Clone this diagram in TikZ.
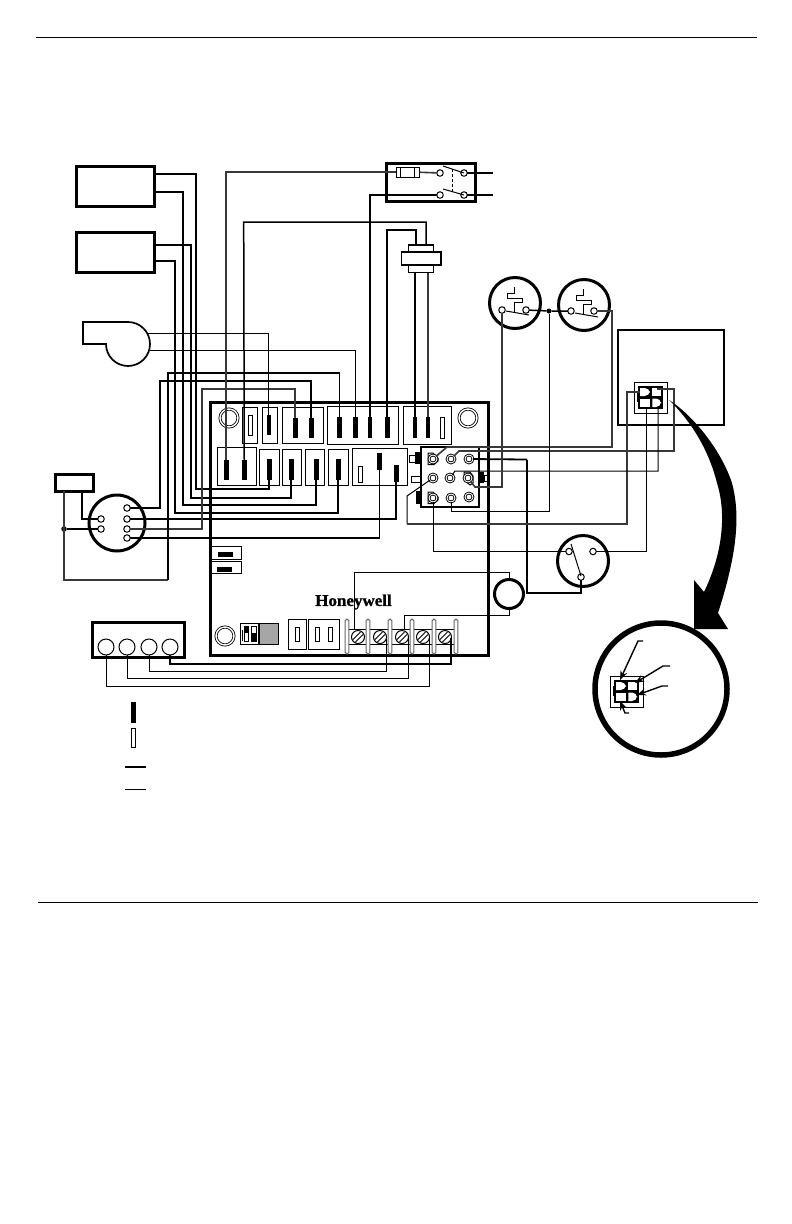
\documentclass[tikz,border=0pt]{standalone}
\usepackage{fontspec}
\setmainfont{Liberation Serif}
\newfontfamily\hwfont[FakeBold=1.2,FakeStretch=1.03]{Liberation Serif Bold}
\usetikzlibrary{arrows.meta}
\tikzset{
  frame/.style={draw=black,line width=3pt,fill=white},
  blk/.style={draw=black,line width=1pt,fill=white},
  pinb/.style={draw=none,fill=black},
  pino/.style={draw=black,line width=1pt,fill=white},
  hw/.style={draw=black,line width=1.8pt},
  mw/.style={draw=black,line width=1.5pt},
  tw/.style={draw=black,line width=1pt},
  gw/.style={draw=black!78,line width=1.6pt},
  term/.style={circle,draw=black,line width=1pt,fill=white,inner sep=0pt,outer sep=0pt,minimum size=6.5pt},
  ring/.style={circle,draw=black,fill=white,line width=.9pt,double=white,double distance=.9pt,inner sep=0pt,outer sep=0pt,minimum size=8pt},
  bigring/.style={circle,draw=black,fill=white,line width=.8pt,double=white,double distance=1.4pt,inner sep=0pt,outer sep=0pt,minimum size=18pt},
  disc/.style={circle,draw=black,fill=white,line width=3pt,inner sep=0pt,outer sep=0pt},
  screw/.style={circle,draw=black,fill=white,line width=1pt,inner sep=0pt,outer sep=0pt,minimum size=13pt},
  post/.style={draw=black!60,fill=white,line width=1pt,rounded corners=1.6pt},
  callout/.style={draw=black,line width=1.4pt,-{Stealth[length=9pt,width=7pt]}},
}
\newcommand{\bx}[6][blk]{\node[#1,rectangle,inner sep=0pt,outer sep=0pt,minimum width={((#5)-(#3))*1pt},minimum height={((#6)-(#4))*1pt}] (#2) at ({((#3)+(#5))/2},{((#4)+(#6))/2}) {};}
\newcommand{\conn}[3]{%
\begin{scope}[shift={(#1,#2)}]
\bx[blk]{#3o}{0}{0}{33}{31}
\bx[pinb]{#3i}{4}{4}{29}{27}
\fill[white] (6,6) [rounded corners=5pt] -- (15.8,6) -- (15.8,14) [sharp corners] -- (6,14) -- cycle;
\fill[white] (18.3,6) rectangle (27,14);
\fill[white] (6,16.5) rectangle (15.8,25);
\fill[white] (18.3,16.5) [rounded corners=5pt] -- (27,16.5) -- (27,25) [sharp corners] -- (18.3,25) -- cycle;
\bx[pinb]{#3p}{3}{10}{5.5}{20}
\end{scope}}
\newcommand{\bimetal}[3]{%
\begin{scope}[shift={(#1,#2)}]
\draw[tw] (0,9) -- (0,-1) -- (8,-1) -- (8,-5) -- (-7,-5) -- (-7,-10) -- (0,-10) -- (0,-16);
\draw[tw] (-8,8) -- (15,12);
\end{scope}}
\begin{document}
\begin{tikzpicture}[x=1pt,y=-1pt]
\useasboundingbox (0,0) rectangle (792,1224);
\fill[white] (0,0) rectangle (792,1224);
% page rules
\coordinate (ruleAa) at (36,37); \coordinate (ruleAb) at (757,37);
\coordinate (ruleBa) at (38,902); \coordinate (ruleBb) at (758,902);
\draw[tw] (ruleAa) -- (ruleAb);
\draw[tw] (ruleBa) -- (ruleBb);
% left boxes
\bx[frame]{boxA}{76}{166}{154}{206}
\bx[frame]{boxB}{76.5}{232.5}{154.5}{272.5}
\draw[line width=1.7pt,fill=white] (83,322) -- (128,322) arc[start angle=90,end angle=-180,radius=22pt] -- (83,344) -- cycle;
\coordinate (blowA) at (147,333); \coordinate (blowB) at (150,350);
% board
\bx[frame]{board}{210.5}{402}{488.5}{655}
\node[bigring] (scrL) at (229,418) {};
\node[bigring] (scrR) at (468,418) {};
\node[bigring] (scrB) at (225,636) {};
% top row
\bx{tA}{242}{407}{257}{443}
\bx{tB}{262}{407}{277}{443}
\bx{tC}{282}{407}{323}{443}
\bx{tD}{327}{406}{398}{444}
\bx{tE}{403}{406}{451}{444}
\bx[pino]{pTAo}{248}{415}{252}{435}
\bx[pinb]{pTB}{266.5}{415}{271}{435}
\bx[pinb]{pTCa}{292.5}{418}{297.5}{438}
\bx[pinb]{pTCb}{309}{418}{313.5}{438}
\bx[pinb]{pTDa}{337}{417}{342}{438}
\bx[pinb]{pTDb}{353}{417}{357.5}{438}
\bx[pinb]{pTDc}{367.5}{417}{372}{438}
\bx[pinb]{pTDd}{385}{417}{389.5}{438}
\bx[pinb]{pTEa}{412.5}{417}{417}{438}
\bx[pinb]{pTEb}{425.5}{417}{430}{438}
\bx[pino]{pTEo}{440}{417}{444}{438}
% bottom row
\bx{bA}{217}{447}{256}{485}
\bx{bB}{259}{449}{279}{485}
\bx{bC}{282}{449}{301}{485}
\bx{bD}{305}{449}{324}{485}
\bx{bE}{328}{449}{348}{485}
\bx{bF}{352}{448}{407}{485}
\bx[pinb]{pBAa}{224}{460}{228.5}{480}
\bx[pinb]{pBAb}{242}{460}{246.5}{480}
\bx[pinb]{pBB}{267}{459}{271.5}{480}
\bx[pinb]{pBC}{289}{459}{293.5}{480}
\bx[pinb]{pBD}{314}{459}{318.5}{480}
\bx[pinb]{pBE}{336}{459}{340.5}{480}
\bx[pino]{pBFo}{358}{466}{362.5}{482}
\bx[pinb]{pBFb}{377}{453}{382}{470}
\bx[pinb]{pBFc}{394}{465}{398.5}{482}
% jumpers
\bx{jA}{211}{546}{241}{559}
\bx[pinb]{jAp}{218}{552}{233}{557}
\bx{jB}{211}{561}{241}{573}
\bx[pinb]{jBp}{217}{567}{232}{572}
% DIP and lower blocks
\bx{dip}{240}{623}{278}{644}
\bx[draw=none,fill=black!35]{dipg}{260}{624}{278}{643.5}
\draw[line width=1.6pt] (259,623) -- (259,644);
\bx[pino]{dipA}{244}{626}{248.5}{641}
\bx[pinb]{dipAb}{244}{626}{248.5}{633}
\bx[pino]{dipB}{251.5}{626}{256}{641}
\bx[pinb]{dipBb}{251.5}{633}{256}{641}
\draw[line width=.7pt] (242,630) -- (242,641);
\bx{lA}{288}{619}{306}{649}
\bx[pino]{lAs}{295}{627}{299}{641}
\bx{lB}{308}{619}{339}{649}
\bx[pino]{lBa}{315}{627}{319}{641}
\bx[pino]{lBb}{328}{627}{332}{641}
\node[font=\hwfont\fontsize{16.5}{18}\selectfont,inner sep=0pt] (hw) at (353.5,602) {Honeywell};
% terminal strip
\draw[line width=.8pt] (347,629) -- (456,629) (347,644) -- (456,644);
\foreach \x/\n in {347/a,368/b,390/c,412/d,434/e,456/f}{
  \bx[post]{post\n}{\x-1.8}{619}{\x+1.8}{654}
}
\foreach \x/\n in {358/a,380/b,402/c,423/d,445/e}{
  \node[screw] (sc\n) at (\x,637) {};
  \draw[line width=.8pt] (\x-5,637+2.5) -- (\x+2.5,637-5) (\x-2.5,637+5) -- (\x+5,637-2.5);
}
% low-voltage strip
\bx[frame]{tstat}{92.5}{622.5}{184.5}{657.5}
\foreach \x/\n in {106/a,127/b,149/c,170/d}{
  \node[circle,draw=black,line width=1pt,fill=white,inner sep=0pt,outer sep=0pt,minimum size=16pt] (ts\n) at (\x,647) {};
}
% capacitor, motor
\bx[frame]{cap}{55.5}{474.5}{93}{491}
\node[disc,minimum size=56pt] (motor) at (117,523) {};
\node[term] (mL1) at (101,519) {};
\node[term] (mL2) at (101,529) {};
\node[term] (mR1) at (127,508) {};
\node[term] (mR2) at (127,519) {};
\node[term] (mR3) at (127,529) {};
\node[term] (mR4) at (127,538) {};
\node[circle,fill=black,inner sep=0pt,outer sep=0pt,minimum size=5.5pt] (capdot) at (64,529) {};
% switch box
\bx[frame]{sw}{386.5}{163.5}{475}{201.5}
\bx[pino]{fuse}{396}{167.5}{419.5}{177}
\draw[line width=.9pt] (400.5,167.5) -- (400.5,177) (414.5,167.5) -- (414.5,177);
\node[term] (swA) at (440,173) {};
\node[term] (swB) at (464,173) {};
\node[term] (swC) at (440,195) {};
\node[term] (swD) at (464,195) {};
\draw[tw] (443,166) -- (464,173) (443,189) -- (464,195);
\draw[line width=.8pt,dashed,dash pattern=on 3pt off 2pt] (452,169) -- (452,192);
\coordinate (lineA) at (493,173); \coordinate (lineB) at (493,195);
% transformer
\bx[blk,line width=1.7pt]{xfT}{408.5}{245}{433.5}{252}
\bx[blk,line width=1.7pt]{xfB}{408.5}{265}{433.5}{272.5}
\bx[blk,line width=1.7pt]{xfM}{401.5}{252}{441}{265}
% limit switches
\node[disc,minimum size=51pt] (limA) at (515,303) {};
\node[disc,minimum size=51pt] (limB) at (584,305) {};
\bimetal{514}{303}{a}
\bimetal{583}{305}{b}
\node[term] (lA1) at (502,310) {};
\node[term] (lA2) at (526,310) {};
\node[term] (lB1) at (571,311) {};
\node[term] (lB2) at (594,311) {};
\node[circle,fill=black,inner sep=0pt,outer sep=0pt,minimum size=5pt] (limdot) at (549,311) {};
% third limit
\node[disc,minimum size=51pt] (limC) at (583,561) {};
\node[term] (cA) at (569,551.5) {};
\node[term] (cB) at (593,551.5) {};
\node[term] (cC) at (581,577) {};
\draw[tw] (571,544) -- (581,576);
% circle
\node[disc,minimum size=29pt] (flame) at (509,594) {};
% gas block
\bx[draw=black,line width=1.3pt,fill=white]{gv}{421}{447}{479}{507}
\bx[pinb]{tabA}{415}{452}{420}{464}
\bx[pino]{tabAo}{409.5}{455}{415}{462}
\bx[pino]{tabBo}{411}{476}{420}{482}
\bx[pinb]{tabC}{415.5}{491}{420}{504}
\bx[pinb]{tabD}{478.5}{472}{484}{483}
\bx[pino]{tabDo}{484}{475}{487}{481}
\draw[line width=1pt,fill=white] (428,453) -- (433,453) -- (438,458) -- (438,461) -- (434,464.5) -- (428,464.5) -- cycle;
\draw[line width=1pt,fill=white] (428,492) -- (433,492) -- (438,497) -- (438,500) -- (434,503.5) -- (428,503.5) -- cycle;
\draw[line width=1pt,fill=white] (464,472) -- (470,472) -- (473,476) -- (473,483) -- (470,485) -- (464,480) -- cycle;
\node[ring] (g11) at (433,459) {};
\node[ring] (g12) at (451,459) {};
\node[ring] (g13) at (469,459) {};
\node[ring] (g21) at (433,478) {};
\node[ring] (g22) at (450,478) {};
\node[ring] (g23) at (468,478) {};
\node[ring] (g31) at (433,498) {};
\node[ring] (g32) at (451,498) {};
\node[ring] (g33) at (469,497) {};
% inset panel and connector
\bx[draw=black,line width=2pt,fill=white]{panel}{618}{330}{724}{425}
\conn{634}{382}{cnA}
% wires from boxes
\draw[hw] (boxA.east |- 0,174) -| (196,489) -| (pBB.south);
\draw[hw] (boxA.east |- 0,192) -| (183,505) -| (pBD.south);
\draw[hw] (boxB.east |- 0,245) -| (191,498) -| (pBC.south);
\draw[hw] (boxB.east |- 0,261) -| (175,513) -| (pBE.south);
% motor wires
\draw[hw] (mR1) -| (160,381) -| (pTCb.north);
\draw[hw] (mR2) -| (pBFc.south);
\draw[gw] (mR3) -| (202,389) -| (pTCa.north);
\draw[hw] (mR4) -| (pBFb.south);
\draw[gw] (cap.south -| capdot) -- (64,580) -- (168,580);
\draw[hw] (168,580) -- (168,373) -| (pTDa.north);
\draw[hw] (cap.south -| 82,0) |- (mL1);
\draw[hw] (capdot) -- (mL2);
% line voltage wires
\draw[gw] (pBAa.north) |- (fuse.west);
\draw[mw] (pBAb.north) -- (243.7,222) -- (426,222) -- (xfT.north -| 426,0);
\draw[hw] (pTDc.north) |- (swC);
\draw[hw] (pTDd.north) |- (416,230) -- (xfT.north -| 416,0);
\draw[hw] (pTEa.north) -- (xfB.south -| pTEa);
\draw[gw] (pTEb.north) -- (xfB.south -| pTEb);
\draw[gw] (fuse.east) -- (swA);
\draw[hw] (swB) -- (lineA);
\draw[hw] (swD) -- (lineB);
% blower
\draw[tw] (pTB.north) |- (blowA);
\draw[tw] (pTDb.north) |- (blowB);
% gas block wires
\draw[gw] (g11) -- (447,447) -- (612,447) -- (612,311) -- (lB2);
\draw[gw] (g12) -- (459,451) -- (674,451) -- (674,389) -- (657,389);
\draw[hw] (g13) -- (527,459.5);
\draw[mw] (527,459.5) -- (527,593) -- (581,593) -- (cC);
\draw[tw] (g21) -- (407,496) -- (407,524);
\draw[gw] (407,524) -- (627,524) -- (627,392) -- (640,392);
\draw[tw] (g22) -- (455,471) -- (658,471) -- (658,407);
\draw[gw] (g23) -- (475,487) -- (502,487) -- (lA1);
\draw[tw] (g31) |- (cA);
\draw[tw] (g32) |- (549,511) -- (limdot);
\draw[tw] (cB) -| (646.5,407);
\draw[mw] (lA2) -- (limdot) -- (lB1);
% low voltage
\coordinate (tapA) at (354,630); \coordinate (tapC) at (404,630);
\coordinate (tapB) at (386,638); \coordinate (tapCb) at (408,638);
\coordinate (tapD) at (429,638); \coordinate (tapE) at (451,638);
\draw[tw] (tapA) -- (354,572) -- (509,572) -- (flame.north);
\draw[tw] (flame.south) -- (509,615) -- (404,615) -- (tapC);
\draw[hw] (tapE) -- (451,664) -- (170,664) -- (tsd);
\draw[tw] (tapB) -- (386,671) -- (149,671) -- (tsc);
\draw[tw] (tapCb) -- (408,678) -- (127,678) -- (tsb);
\draw[tw] (tapD) -- (429,686) -- (106,686) -- (tsa);
% big arrow
\fill[black] (669,400) .. controls (690,413) and (720,447) .. (732,483) .. controls (739,510) and (740,545) .. (718,613) -- (728,629) -- (694,629) -- (694,580) -- (704,592) .. controls (722,555) and (727,515) .. (717,483) .. controls (710,455) and (695,425) .. (669,400) -- cycle;
% magnifier
\node[circle,draw=black,fill=white,line width=5.5pt,inner sep=0pt,outer sep=0pt,minimum size=132pt] (mag) at (661,689) {};
\conn{610}{676}{cnB}
\coordinate (coA) at (643,641); \coordinate (coB) at (670,666); \coordinate (coC) at (668,686); \coordinate (coD) at (629,713);
\draw[callout] (coA) -- (638,641) -- (620,680);
\draw[callout] (coB) -- (663,666) -- (635,683);
\draw[callout] (coC) -- (662,686) -- (637,695);
\draw[callout] (coD) -- (625,713) -- (620,701);
% legend
\bx[pinb]{legA}{131}{702}{136}{723}
\bx[pino]{legB}{131.5}{728.5}{135.5}{747}
\coordinate (legCa) at (125,767); \coordinate (legCb) at (146,767);
\coordinate (legDa) at (125,789); \coordinate (legDb) at (146,789);
\draw[hw] (legCa) -- (legCb);
\draw[tw] (legDa) -- (legDb);
\end{tikzpicture}
\end{document}
